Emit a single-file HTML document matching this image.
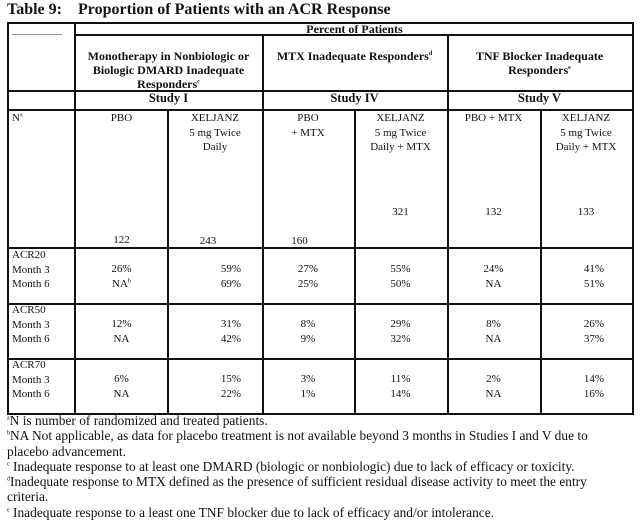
<!DOCTYPE html>
<html><head><meta charset="utf-8"><style>
body{margin:0;width:640px;height:530px;background:#fff;font-family:"Liberation Serif",serif;color:#111;position:relative;overflow:hidden}
.t{position:absolute;white-space:nowrap;font-size:11px;line-height:14.5px}
.c{text-align:center}
.b{font-weight:bold}
.h{position:absolute;background:#111;height:1.5px}
.v{position:absolute;background:#111;width:1.5px}
sup{font-size:6px;line-height:0}
</style></head><body>
<div class="t b" style="left:7px;top:1px;font-size:16px;line-height:18px">Table 9:&nbsp;&nbsp;&nbsp; Proportion of Patients with an ACR Response</div>

<div class="h" style="left:7px;width:627px;top:22px;height:2px"></div>
<div class="h" style="left:75px;width:559px;top:34px"></div>
<div class="h" style="left:7px;width:627px;top:90px"></div>
<div class="h" style="left:7px;width:627px;top:109px"></div>
<div class="h" style="left:7px;width:627px;top:247px"></div>
<div class="h" style="left:7px;width:627px;top:303px"></div>
<div class="h" style="left:7px;width:627px;top:358px"></div>
<div class="h" style="left:7px;width:627px;top:413px;height:2px"></div>
<div class="h" style="left:12px;width:50px;top:34px;height:1px;background:#999"></div>
<div class="v" style="left:7px;top:22px;height:393px"></div>
<div class="v" style="left:74px;top:22px;height:393px"></div>
<div class="v" style="left:262px;top:34px;height:381px"></div>
<div class="v" style="left:447px;top:34px;height:381px"></div>
<div class="v" style="left:632px;top:22px;height:393px"></div>
<div class="v" style="left:167px;top:109px;height:306px"></div>
<div class="v" style="left:354px;top:109px;height:306px"></div>
<div class="v" style="left:540px;top:109px;height:306px"></div>

<div class="t b c" style="left:75px;width:559px;top:23px;font-size:12px;line-height:12px">Percent of Patients</div>
<div class="t b c" style="left:75px;width:187px;top:49px;font-size:12px;line-height:14px">Monotherapy in Nonbiologic or<br>Biologic DMARD Inadequate<br>Responders<sup>c</sup></div>
<div class="t b c" style="left:262px;width:185px;top:49px;font-size:12px;line-height:14px">MTX Inadequate Responders<sup>d</sup></div>
<div class="t b c" style="left:447px;width:185px;top:49px;font-size:12px;line-height:14px">TNF Blocker Inadequate<br>Responders<sup>e</sup></div>
<div class="t b c" style="left:75px;width:187px;top:91px;font-size:12.5px">Study I</div>
<div class="t b c" style="left:262px;width:185px;top:91px;font-size:12.5px">Study IV</div>
<div class="t b c" style="left:447px;width:185px;top:91px;font-size:12.5px">Study V</div>

<div class="t" style="left:12px;top:111px">N<sup>a</sup></div>
<div class="t c" style="left:75px;width:93px;top:111px">PBO</div>
<div class="t c" style="left:168px;width:94px;top:111px">XELJANZ<br>5 mg Twice<br>Daily</div>
<div class="t c" style="left:262px;width:92px;top:111px">PBO<br>+ MTX</div>
<div class="t c" style="left:354px;width:93px;top:111px">XELJANZ<br>5 mg Twice<br>Daily + MTX</div>
<div class="t c" style="left:447px;width:93px;top:111px">PBO + MTX</div>
<div class="t c" style="left:540px;width:92px;top:111px">XELJANZ<br>5 mg Twice<br>Daily + MTX</div>

<div class="t c" style="left:75px;width:93px;top:233px">122</div>
<div class="t c" style="left:168px;width:80px;top:234px">243</div>
<div class="t c" style="left:262px;width:75px;top:234px">160</div>
<div class="t c" style="left:354px;width:93px;top:205px">321</div>
<div class="t c" style="left:447px;width:93px;top:205px">132</div>
<div class="t c" style="left:540px;width:92px;top:205px">133</div>

<div class="t" style="left:12px;top:248px">ACR20<br>Month 3<br>Month 6</div>
<div class="t" style="left:12px;top:303px">ACR50<br>Month 3<br>Month 6</div>
<div class="t" style="left:12px;top:358px">ACR70<br>Month 3<br>Month 6</div>

<div class="t c" style="left:75px;width:93px;top:262px">26%<br>NA<sup>b</sup></div>
<div class="t c" style="left:184px;width:94px;top:262px">59%<br>69%</div>
<div class="t c" style="left:262px;width:92px;top:262px">27%<br>25%</div>
<div class="t c" style="left:354px;width:93px;top:262px">55%<br>50%</div>
<div class="t c" style="left:447px;width:93px;top:262px">24%<br>NA</div>
<div class="t c" style="left:540px;width:108px;top:262px">41%<br>51%</div>

<div class="t c" style="left:75px;width:93px;top:317px">12%<br>NA</div>
<div class="t c" style="left:184px;width:94px;top:317px">31%<br>42%</div>
<div class="t c" style="left:262px;width:92px;top:317px">8%<br>9%</div>
<div class="t c" style="left:354px;width:93px;top:317px">29%<br>32%</div>
<div class="t c" style="left:447px;width:93px;top:317px">8%<br>NA</div>
<div class="t c" style="left:540px;width:108px;top:317px">26%<br>37%</div>

<div class="t c" style="left:75px;width:93px;top:372px">6%<br>NA</div>
<div class="t c" style="left:184px;width:94px;top:372px">15%<br>22%</div>
<div class="t c" style="left:262px;width:92px;top:372px">3%<br>1%</div>
<div class="t c" style="left:354px;width:93px;top:372px">11%<br>14%</div>
<div class="t c" style="left:447px;width:93px;top:372px">2%<br>NA</div>
<div class="t c" style="left:540px;width:108px;top:372px">14%<br>16%</div>

<div class="t" style="left:7px;top:413px;font-size:13.4px;line-height:15.3px"><sup>a</sup>N is number of randomized and treated patients.<br><sup>b</sup>NA Not applicable, as data for placebo treatment is not available beyond 3 months in Studies I and V due to<br>placebo advancement.<br><sup>c</sup> Inadequate response to at least one DMARD (biologic or nonbiologic) due to lack of efficacy or toxicity.<br><sup>d</sup>Inadequate response to MTX defined as the presence of sufficient residual disease activity to meet the entry<br>criteria.</div>
<div class="t" style="left:7px;top:505px;font-size:13.4px;line-height:15px"><sup>e</sup> Inadequate response to a least one TNF blocker due to lack of efficacy and/or intolerance.</div>
</body></html>
